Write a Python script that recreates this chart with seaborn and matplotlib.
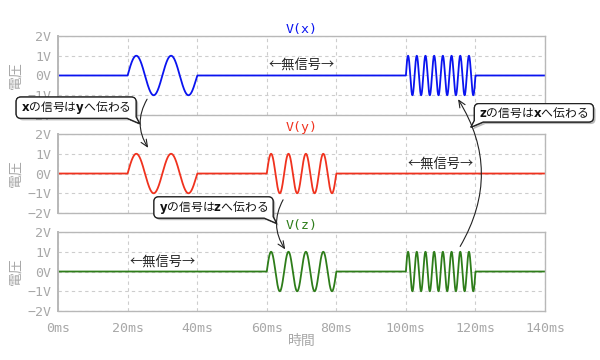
import numpy as np
import pandas as pd
import matplotlib
matplotlib.use('Agg')
import matplotlib.pyplot as plt
import matplotlib.patheffects as pe
from matplotlib.path import Path
from matplotlib.patches import ConnectionPatch
import seaborn as sns

# signal names / colours
names = ['V(x)', 'V(y)', 'V(z)']
colors = ['#0a14f0', '#f0321e', '#2e7d1a']

# sine bursts of each signal: (start ms, end ms, cycles)
x_bursts = [(20, 40, 2), (100, 120, 8)]
y_bursts = [(20, 40, 2), (60, 80, 4)]
z_bursts = [(60, 80, 4), (100, 120, 8)]
amplitude = 1.0

x_ticks = [0, 20, 40, 60, 80, 100, 120, 140]
x_ticklabels = ['0ms', '20ms', '40ms', '60ms', '80ms', '100ms', '120ms', '140ms']
y_ticks = [-2, -1, 0, 1, 2]
y_ticklabels = ['\u22122V', '\u22121V', '0V', '1V', '2V']

# "no signal" marks: (panel, ms, V)
nosig_panel = [0, 1, 2]
nosig_t = [70, 110, 30]
nosig_v = [0.5, 0.5, 0.5]

# callouts: (panel, ms, V, text, tail side)
callouts = [
    (0, 5.2, -1.63, r'$\mathbf{x}$の信号は$\mathbf{y}$へ伝わる', 'right'),
    (1, 44.7, -1.72, r'$\mathbf{y}$の信号は$\mathbf{z}$へ伝わる', 'right'),
    (0, 136.8, -1.89, r'$\mathbf{z}$の信号は$\mathbf{x}$へ伝わる', 'left'),
]
# arrows: (panel from, ms, V, panel to, ms, V)
arrows = [
    (0, 25.6, -1.2, 1, 25.9, 1.3),
    (1, 64.7, -1.33, 2, 65.3, 1.12),
    (2, 115.6, 1.27, 0, 115.0, -1.2),
]

t = np.arange(0, 140.0001, 0.01)


def wave(bursts):
    v = np.zeros_like(t)
    for a, b, n in bursts:
        m = (t >= a) & (t <= b)
        v[m] = amplitude * np.sin(2 * np.pi * n * (t[m] - a) / (b - a))
    return v


def bubble(side):
    def style(x0, y0, width, height, mutation_size):
        px, py = 0.42 * mutation_size, 0.18 * mutation_size
        x0, y0 = x0 - px, y0 - py
        x1, y1 = x0 + width + 2 * px, y0 + height + 2 * py
        r = 0.4 * mutation_size
        tl, th, tx = 0.75 * mutation_size, 0.45 * mutation_size, 0.3 * mutation_size
        M, L, C, Z = Path.MOVETO, Path.LINETO, Path.CURVE3, Path.CLOSEPOLY
        if side == 'right':
            verts = [(x0 + r, y0), (x1 - tl, y0), (x1 + tx, y0 - th), (x1, y0 + 0.3 * r),
                     (x1, y1 - r), (x1, y1), (x1 - r, y1), (x0 + r, y1),
                     (x0, y1), (x0, y1 - r), (x0, y0 + r), (x0, y0), (x0 + r, y0),
                     (x0 + r, y0)]
            codes = [M, L, L, L, L, C, C, L, C, C, L, C, C, Z]
        else:
            verts = [(x0 + tl, y0), (x1 - r, y0), (x1, y0), (x1, y0 + r),
                     (x1, y1 - r), (x1, y1), (x1 - r, y1), (x0 + r, y1),
                     (x0, y1), (x0, y1 - r), (x0, y0 + 0.3 * r), (x0 - tx, y0 - th),
                     (x0 + tl, y0)]
            codes = [M, L, C, C, L, C, C, L, C, C, L, L, Z]
        return Path(verts, codes)
    return style


sns.set_theme(style='white')
plt.rcParams['font.family'] = ['Noto Sans CJK JP', 'DejaVu Sans']
plt.rcParams['mathtext.fontset'] = 'dejavusans'

grey = '#a8a8a8'
mono = 'DejaVu Sans Mono'

fig = plt.figure(figsize=(6, 3.6), dpi=100)
bottoms = [0.6806, 0.4083, 0.1361]
axes = [fig.add_axes([0.0967, b, 0.8117, 0.2194]) for b in bottoms]

for i, (ax, bursts) in enumerate(zip(axes, [x_bursts, y_bursts, z_bursts])):
    df = pd.DataFrame({'t': t, 'v': wave(bursts)})
    sns.lineplot(data=df, x='t', y='v', ax=ax, color=colors[i], linewidth=1.3,
                 estimator=None, sort=False)
    ax.set_xlim(0, 140)
    ax.set_ylim(-2, 2)
    ax.set_xticks(x_ticks)
    ax.set_yticks(y_ticks)
    ax.set_yticklabels(y_ticklabels, fontfamily=mono, fontsize=9.5, color=grey)
    ax.grid(True, linestyle=(0, (3, 3)), color='#cdcdcd', linewidth=0.8)
    for s in ax.spines.values():
        s.set_color('#b8b8b8')
        s.set_linewidth(1.0)
    ax.spines['left'].set_linewidth(1.4)
    ax.tick_params(axis='y', length=4, width=1.0, color='#b0b0b0', pad=1)
    ax.set_title(names[i], color=colors[i], fontfamily=mono, fontsize=9.5, pad=2)
    ax.set_ylabel('電圧', color=grey, fontsize=10, labelpad=3)
    if i < 2:
        ax.tick_params(axis='x', length=0, labelbottom=False)
        ax.set_xlabel('')
    else:
        ax.set_xticklabels(x_ticklabels, fontfamily=mono, fontsize=9.5, color=grey)
        ax.tick_params(axis='x', length=5, width=1.0, color='#b0b0b0', pad=3)
        ax.set_xlabel('時間', color=grey, fontsize=10, labelpad=-1)

for p, tm, v in zip(nosig_panel, nosig_t, nosig_v):
    axes[p].text(tm, v, '←無信号→', ha='center', va='center', fontsize=9.5,
                 color='#222222')

for p, tm, v, s, side in callouts:
    txt = axes[p].text(tm, v, s, ha='center', va='center', fontsize=8.5,
                       color='#111111', zorder=10, clip_on=False,
                       bbox=dict(boxstyle=bubble(side), fc='white', ec='#222222', lw=0.9))
    txt.get_bbox_patch().set_path_effects(
        [pe.withSimplePatchShadow(offset=(1.5, -1.5), shadow_rgbFace='#777777', alpha=0.5),
         pe.Normal()])

for pa, ta, va, pb, tb, vb in arrows:
    con = ConnectionPatch(xyA=(ta, va), coordsA=axes[pa].transData,
                          xyB=(tb, vb), coordsB=axes[pb].transData,
                          arrowstyle='->,head_length=0.5,head_width=0.22',
                          connectionstyle='arc3,rad=0.3', color='#222222', lw=0.8,
                          zorder=20)
    fig.add_artist(con)

fig.savefig('out.png', dpi=100)
